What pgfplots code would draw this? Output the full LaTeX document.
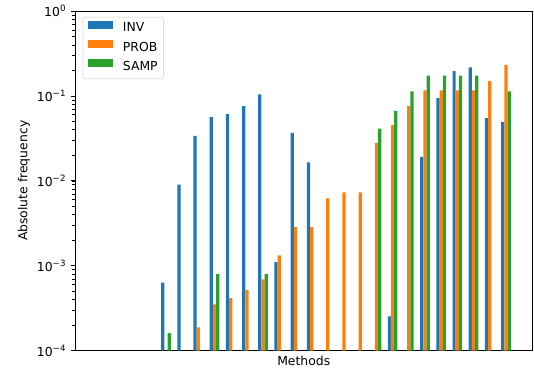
\documentclass[border=0pt]{standalone}
\usepackage{fontspec}
\setmainfont{DejaVu Sans}
\usepackage{pgfplots}
\pgfplotsset{compat=1.18}
\definecolor{tabblue}{HTML}{1F77B4}
\definecolor{taborange}{HTML}{FF7F0E}
\definecolor{tabgreen}{HTML}{2CA02C}
\begin{document}
\fontsize{9.3pt}{11pt}\selectfont
\begin{tikzpicture}
\begin{axis}[
  at={(0,0)}, anchor=south west,
  scale only axis, width=343.1pt, height=254.6pt,
  ymode=log, ymin=1e-4, ymax=1, log origin=infty,
  xmin=-5.62, xmax=22.64,
  xtick=\empty,
  ytick={1e-4,1e-3,1e-2,1e-1,1},
  yticklabels={10\textsuperscript{−4},10\textsuperscript{−3},10\textsuperscript{−2},10\textsuperscript{−1},10\textsuperscript{0}},
  ytick pos=left, tick align=outside,
  major tick length=3.3pt, minor tick length=1.9pt,
  axis line style={line width=0.7pt},
  every tick/.style={black, line width=0.6pt},
  minor tick style={line width=0.45pt},
  xlabel={Methods}, ylabel={Absolute frequency},
  xlabel style={at={(axis description cs:0.5,-0.031)}, anchor=center},
  ylabel style={at={(axis description cs:-0.1115,0.5)}, anchor=center, rotate=0},
  legend cell align=left,
  legend image code/.code={\fill[#1, sharp corners] (0pt,0pt) rectangle (18.75pt,6pt);},
  legend style={at={(axis description cs:0.0168,0.9832)}, anchor=north west,
    draw=black!20, rounded corners=2pt, fill=white,
    inner xsep=3.45pt, inner ysep=2.7pt, column sep=6.8pt, row sep=2.5pt,
    nodes={inner xsep=1pt, inner ysep=1.5pt, text height=7pt, text depth=2pt},
    font=\fontsize{9.3pt}{11pt}\selectfont},
]
\addplot[ybar, bar width=0.2, bar shift=-0.2, fill=tabblue, draw=none] coordinates {
 (0,6.3e-4) (1,9.0e-3) (2,0.0338) (3,0.0561) (4,0.061) (5,0.0757) (6,0.104) (7,1.10e-3)
 (8,0.0366) (9,0.0165) (14,2.52e-4) (16,0.0191) (17,0.095) (18,0.196) (19,0.217)
 (20,0.0546) (21,0.0494)};
\addlegendentry{INV}
\addplot[ybar, bar width=0.2, bar shift=0, fill=taborange, draw=none] coordinates {
 (2,1.87e-4) (3,3.49e-4) (4,4.14e-4) (5,5.2e-4) (6,6.9e-4) (7,1.32e-3) (8,2.85e-3)
 (9,2.85e-3) (10,6.2e-3) (11,7.3e-3) (12,7.3e-3) (13,0.0279) (14,0.0452) (15,0.0757)
 (16,0.116) (17,0.116) (18,0.116) (19,0.116) (20,0.149) (21,0.232)};
\addlegendentry{PROB}
\addplot[ybar, bar width=0.2, bar shift=0.2, fill=tabgreen, draw=none] coordinates {
 (0,1.6e-4) (3,8.0e-4) (6,8.0e-4) (13,0.0413) (14,0.0667) (15,0.113) (16,0.174)
 (17,0.174) (18,0.174) (19,0.174) (21,0.113)};
\addlegendentry{SAMP}
\end{axis}
\pgfresetboundingbox
\useasboundingbox (-56.25pt,-19.1pt) rectangle (344.25pt,262.9pt);
\end{tikzpicture}
\end{document}
